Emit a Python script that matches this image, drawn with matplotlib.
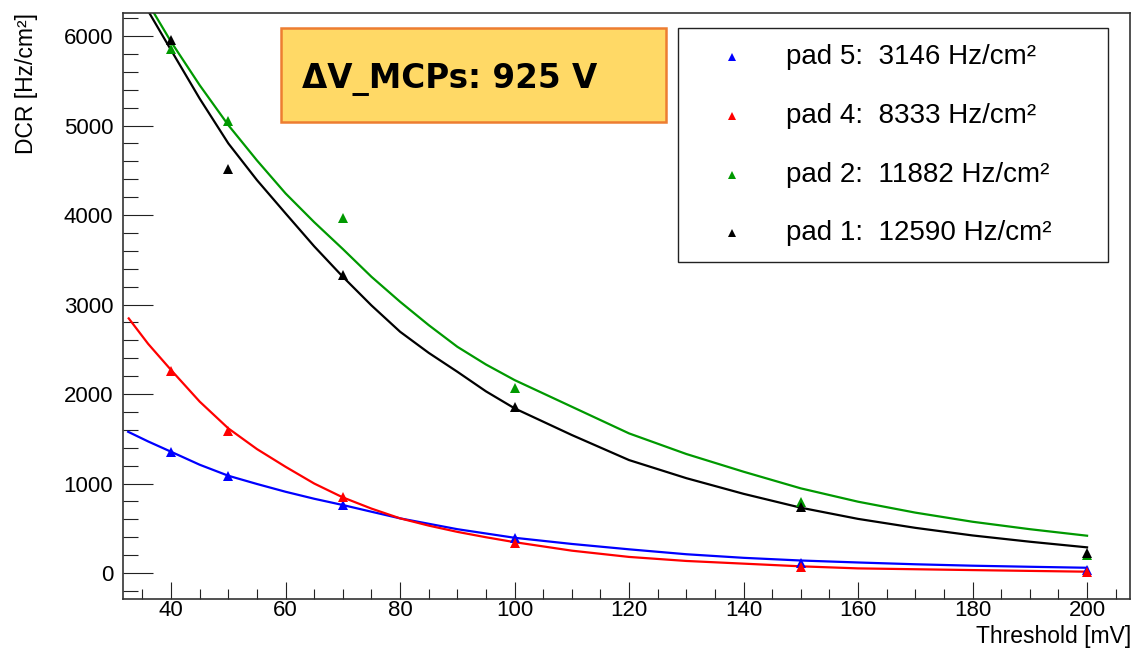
import matplotlib
matplotlib.use('Agg')
import matplotlib.pyplot as plt
from matplotlib.patches import Rectangle
from matplotlib.lines import Line2D
from matplotlib.ticker import MultipleLocator

plt.rcParams['font.family'] = ['Liberation Sans', 'DejaVu Sans']

# measured points (DCR vs threshold)
thresholds = [40, 50, 70, 100, 150, 200]
pad5_pts = [1348, 1083, 760, 387, 108, 34]
pad4_pts = [2260, 1590, 845, 339, 64, 8]
pad2_pts = [5860, 5049, 3962, 2063, 797, 201]
pad1_pts = [5960, 4509, 3329, 1858, 741, 227]

# fitted curves
pad5_fit_x = [32.5, 36, 40, 45, 50, 55, 60, 65, 70, 75, 80, 90, 100, 110, 120, 130,
              140, 150, 160, 170, 180, 190, 200]
pad5_fit = [1578, 1470, 1355, 1210, 1087, 995, 908, 830, 760, 685, 611, 490, 394, 325,
            265, 210, 170, 140, 118, 98, 82, 70, 59]
pad4_fit_x = [32.6, 36, 40, 45, 50, 55, 60, 65, 70, 75, 80, 85, 90, 95, 100, 110, 120,
              130, 140, 150, 160, 180, 200]
pad4_fit = [2845, 2560, 2268, 1915, 1616, 1385, 1187, 1000, 845, 720, 611, 530, 460, 400,
            345, 250, 180, 135, 105, 75, 52, 33, 15]
pad2_fit_x = [37.0, 40, 45, 50, 55, 60, 65, 70, 75, 80, 85, 90, 95, 100, 110, 120, 130,
              140, 150, 160, 170, 180, 190, 200]
pad2_fit = [6257, 5935, 5450, 5004, 4610, 4241, 3920, 3620, 3310, 3031, 2770, 2528, 2330,
            2156, 1858, 1560, 1330, 1132, 946, 797, 675, 573, 490, 417]
pad1_fit_x = [36.2, 40, 45, 50, 55, 60, 65, 70, 75, 80, 85, 90, 95, 100, 110, 120, 130,
              140, 150, 160, 170, 180, 190, 200]
pad1_fit = [6257, 5842, 5300, 4800, 4390, 4018, 3650, 3310, 2990, 2696, 2460, 2249, 2030,
            1840, 1542, 1262, 1060, 885, 730, 605, 505, 420, 350, 287]

labels = ['pad 5:  3146 Hz/cm\u00b2', 'pad 4:  8333 Hz/cm\u00b2',
          'pad 2:  11882 Hz/cm\u00b2', 'pad 1:  12590 Hz/cm\u00b2']
colours = ['#0000ff', '#ff0000', '#009900', '#000000']

W, H = 1132, 650
fig = plt.figure(figsize=(W / 100, H / 100), dpi=100)
ax = fig.add_axes([123 / W, 1 - 599 / H, (1130 - 123) / W, (599 - 13) / H])

series = [(pad5_fit_x, pad5_fit, pad5_pts), (pad4_fit_x, pad4_fit, pad4_pts),
          (pad2_fit_x, pad2_fit, pad2_pts), (pad1_fit_x, pad1_fit, pad1_pts)]
for (fx, fy, pts), c in zip(series, colours):
    ax.plot(fx, fy, color=c, lw=1.6, zorder=2)
    ax.plot(thresholds, pts, linestyle='none', marker='^', markersize=7,
            markeredgewidth=0, color=c, zorder=3)

ax.set_xlim(31.6, 207.5)
ax.set_ylim(-290, 6257)
ax.xaxis.set_major_locator(MultipleLocator(20))
ax.xaxis.set_minor_locator(MultipleLocator(5))
ax.yaxis.set_major_locator(MultipleLocator(1000))
ax.yaxis.set_minor_locator(MultipleLocator(200))
ax.tick_params(which='both', direction='in', top=False, right=False,
               labelsize=16, width=0.8, color='#222222')
ax.tick_params(axis='x', which='major', length=12.5, pad=1)
ax.tick_params(axis='x', which='minor', length=7)
ax.tick_params(axis='y', which='major', length=21.6, pad=7)
ax.tick_params(axis='y', which='minor', length=10.8)
for s in ax.spines.values():
    s.set_color('#333333')
    s.set_linewidth(1.2)

fig.text(1131 / W, 1 - 636 / H, 'Threshold [mV]', ha='right', va='center', fontsize=16.5)
fig.text(27 / W, 1 - 13 / H, 'DCR [Hz/cm\u00b2]', ha='center', va='top',
         rotation=90, fontsize=16.5)

# legend box
fig.add_artist(Rectangle((678 / W, 1 - 262 / H), (1108 - 678) / W, (262 - 28) / H,
                         transform=fig.transFigure, facecolor='white',
                         edgecolor='#222222', lw=1.0, zorder=5))
rows = [57, 116, 175, 233]
for ry, lab, c in zip(rows, labels, colours):
    fig.add_artist(Line2D([732 / W], [1 - ry / H], transform=fig.transFigure,
                          marker='^', markersize=5.5, markeredgewidth=0,
                          color=c, linestyle='none', zorder=6))
    fig.text(786 / W, 1 - ry / H, lab, ha='left', va='center', fontsize=20, zorder=6)

# voltage box
fig.add_artist(Rectangle((281 / W, 1 - 122 / H), (666 - 281) / W, (122 - 28) / H,
                         transform=fig.transFigure, facecolor='#ffd966',
                         edgecolor='#ed7d31', lw=1.8, zorder=5))
fig.text(302 / W, 1 - 79 / H, '\u0394V_MCPs: 925 V', ha='left', va='center',
         fontsize=23.5, fontweight='bold', family=['DejaVu Sans'], zorder=6)

fig.savefig('out.png', dpi=100)
